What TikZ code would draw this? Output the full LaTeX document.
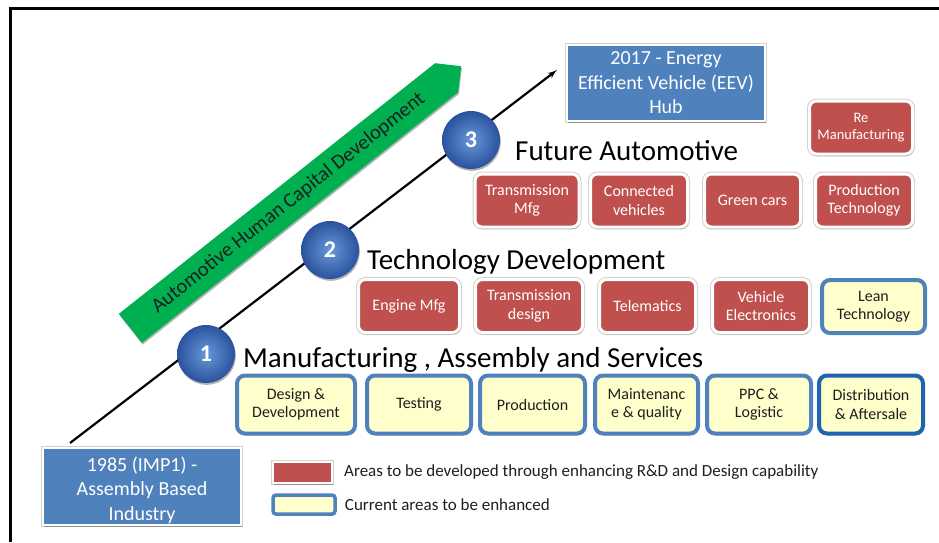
\documentclass[tikz,border=0pt]{standalone}
\usepackage{fontspec}
\setmainfont{Carlito}
\usetikzlibrary{arrows, shadows, shapes.symbols, positioning}

\begin{document}
\begin{tikzpicture}[x=1pt, y=-1pt, >=latex']

\definecolor{hubblue}{RGB}{79, 129, 189}
\definecolor{areared}{RGB}{192, 80, 77}
\definecolor{areayellow}{RGB}{255, 255, 204}
\definecolor{edgeblue}{RGB}{79, 129, 189}
\definecolor{darkedge}{RGB}{30, 100, 178}
\definecolor{hcgreen}{RGB}{0, 176, 80}
\definecolor{ballin}{RGB}{105, 152, 216}
\definecolor{ballout}{RGB}{42, 82, 158}
\definecolor{inktext}{RGB}{30, 30, 30}

\useasboundingbox (0,0) rectangle (939,542);

% Frame
\draw[line width=3pt] (10.5,542) -- (10.5,8.5) -- (939,8.5);

\tikzset{
    softshadow/.style={
        drop shadow={shadow xshift=0.8pt, shadow yshift=-1.8pt, opacity=0.3, fill=black}
    },
    halo/.style={
        preaction={draw=black!18, line width=#1}
    },
    milestone/.style={
        fill=hubblue, draw=white, line width=2.5pt, halo=4.5pt, softshadow,
        text=white, font=\fontsize{20}{24.5}\selectfont, align=center,
        inner sep=0pt, minimum width=198pt, minimum height=77pt
    },
    newarea/.style={
        fill=areared, draw=white, line width=3pt, rounded corners=7pt, halo=5pt, softshadow,
        text=white, font=\fontsize{16}{18.5}\selectfont, align=center,
        inner sep=0pt, minimum height=53pt
    },
    curarea/.style={
        fill=areayellow, draw=edgeblue, line width=4pt, rounded corners=8pt, softshadow,
        text=inktext, font=\fontsize{16}{18.5}\selectfont, align=center,
        inner sep=0pt, minimum height=58pt
    },
    stage/.style={
        circle, minimum size=58pt, inner sep=0pt, inner color=ballin, outer color=ballout,
        softshadow, text=white, font=\bfseries\fontsize{24}{24}\selectfont
    },
    phase/.style={
        anchor=base west, inner sep=0pt, text=black, font=\fontsize{29}{29}\selectfont
    },
    legendtext/.style={
        inner sep=0pt, text=inktext, font=\fontsize{17}{17}\selectfont
    }
}

% --- HUMAN CAPITAL BAND ---
\node[signal, signal to=east, signal pointer angle=90, fill=hcgreen, rotate=38.4,
      minimum width=422pt, minimum height=37pt, inner sep=0pt, softshadow,
      text=inktext, font=\fontsize{20.5}{20.5}\selectfont] (hcd) at (288.5,203)
      {Automotive Human Capital Development};

% --- MILESTONES AND TIMELINE ---
\node[milestone] (imp1) at (142,486.5) {\\[-3pt]1985 (IMP1) -\\Assembly Based\\Industry};
\node[milestone, minimum height=76pt] (eev) at (666,83) {2017 - Energy\\Efficient Vehicle (EEV)\\Hub};

\coordinate (base) at (70,443);
\coordinate (hubtip) at (557,70);
\draw[->, line width=2.2pt] (base) -- (hubtip);

\node[stage] (s1) at (206,354) {1};
\node[stage] (s2) at (330,250) {2};
\node[stage] (s3) at (471,140) {3};

% --- STAGE 3: FUTURE AUTOMOTIVE ---
\node[phase] (futtl) at (515,160) {Future Automotive};
\node[newarea, minimum width=104pt] (tmfg) at (527,200.5) {Transmission\\Mfg};
\node[newarea, minimum width=97pt] (conn) at (639,200.5) {Connected\\vehicles};
\node[newarea, minimum width=96pt] (green) at (752.5,200.5) {Green cars};
\node[newarea, minimum width=97pt] (prodtech) at (864,200.5) {Production\\Technology};
\node[newarea, minimum width=103pt, font=\fontsize{14.5}{17}\selectfont] (remfg) at (861,127.5) {Re\\Manufacturing};

% --- STAGE 2: TECHNOLOGY DEVELOPMENT ---
\node[phase] (techtl) at (367,269) {Technology Development};
\node[newarea, minimum width=101pt] (engine) at (409,306) {Engine Mfg};
\node[newarea, minimum width=107pt] (tdesign) at (529,306) {Transmission\\design};
\node[newarea, minimum width=96pt] (telem) at (647.5,306) {Telematics};
\node[newarea, minimum width=97pt] (vehelec) at (761,306) {Vehicle\\Electronics};
\node[curarea, minimum width=103pt, minimum height=53pt] (lean) at (873.5,306.5) {Lean\\Technology};

% --- STAGE 1: MANUFACTURING, ASSEMBLY AND SERVICES ---
\node[phase] (mfgtl) at (243,367) {Manufacturing , Assembly and Services};
\node[curarea, minimum width=118pt] (design) at (296,404.5) {Design \&\\Development};
\node[curarea, minimum width=104pt] (testing) at (419,404.5) {Testing};
\node[curarea, minimum width=105pt] (prod) at (532.5,404.5) {Production};
\node[curarea, minimum width=103pt] (maint) at (646.5,404.5) {Maintenanc\\e \& quality};
\node[curarea, minimum width=104pt] (ppc) at (759,404.5) {PPC \&\\Logistic};
\node[curarea, minimum width=104pt, draw=darkedge] (distr) at (871,404.5) {Distribution\\\& Aftersale};

% --- LEGEND ---
\node[fill=areared, draw=white, line width=2pt, halo=3.5pt, softshadow, inner sep=0pt,
      minimum width=59pt, minimum height=21pt] (legred) at (302.5,472.5) {};
\node[fill=areayellow, draw=edgeblue, line width=3.5pt, rounded corners=3pt, softshadow, inner sep=0pt,
      minimum width=62pt, minimum height=19pt] (legyel) at (304,504.5) {};
\node[legendtext, right=11pt of legred] (legredtx) {Areas to be developed through enhancing R\&D and Design capability};
\node[legendtext, right=8pt of legyel] (legyeltx) {Current areas to be enhanced};

\end{tikzpicture}
\end{document}
